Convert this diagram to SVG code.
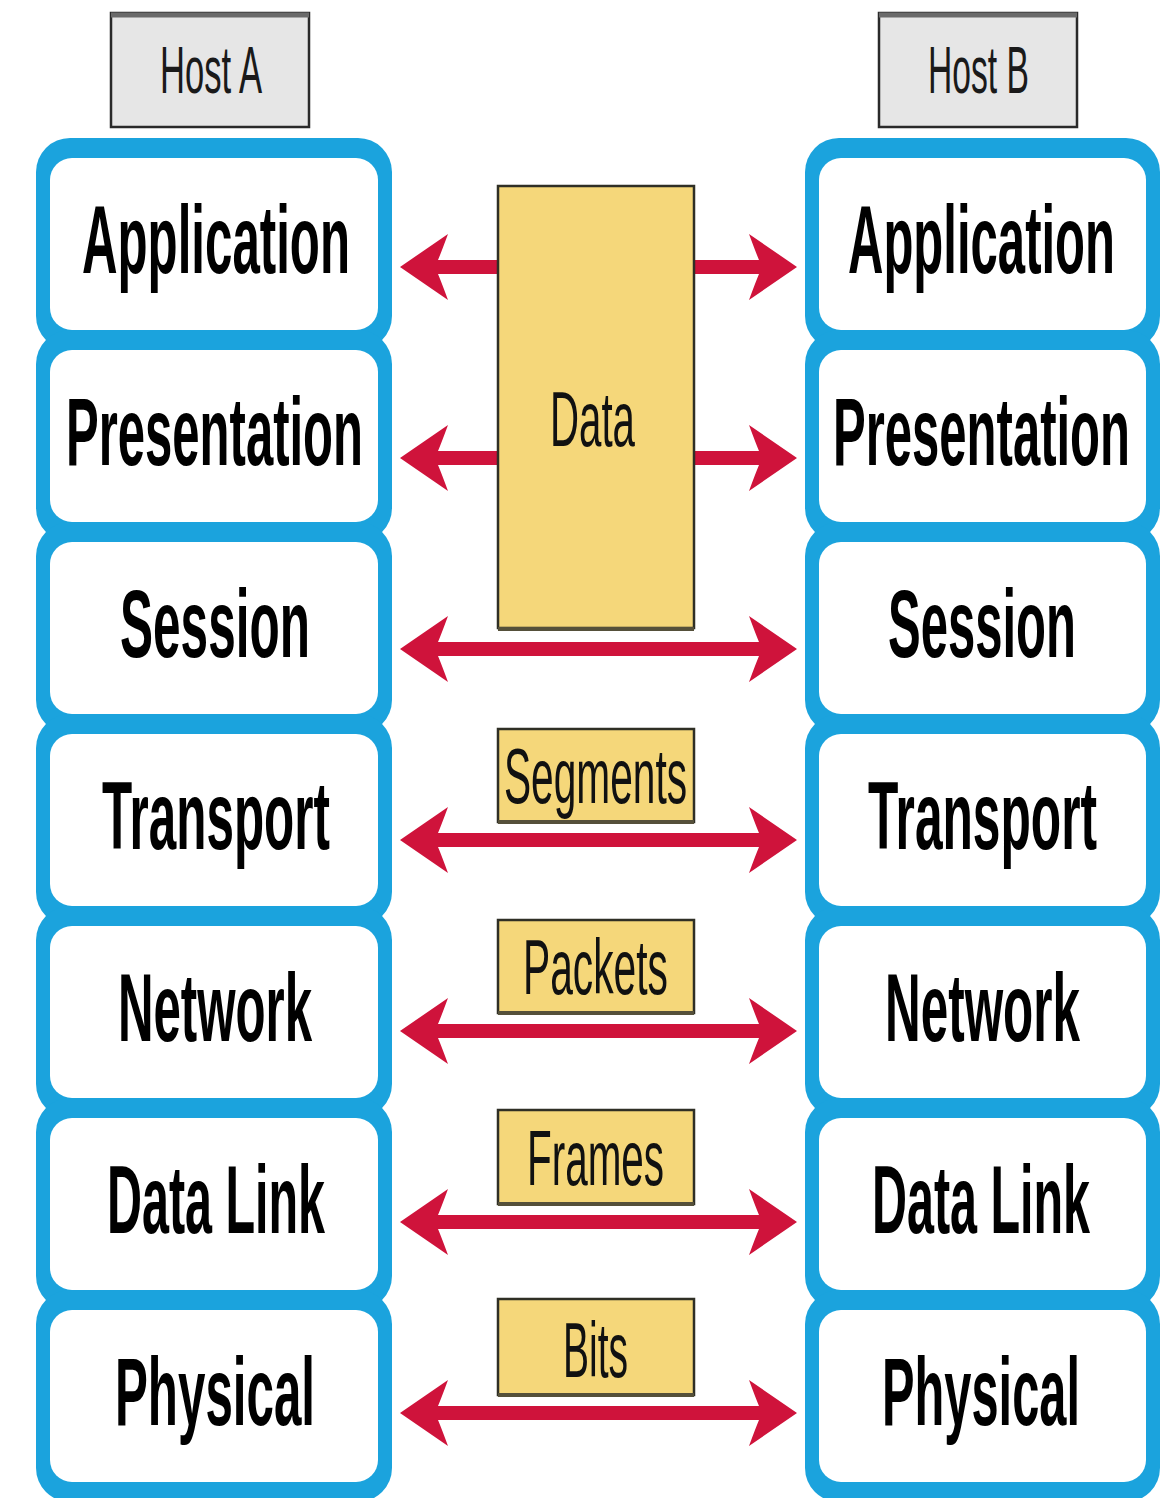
<svg xmlns="http://www.w3.org/2000/svg" xmlns:xlink="http://www.w3.org/1999/xlink" width="1164" height="1498" viewBox="0 0 1164 1498">
<style>
.ob{fill:#1ba3dd}
.ib{fill:#ffffff}
.lay{font-family:"Liberation Sans Narrow","Liberation Sans",Arial,sans-serif;font-weight:bold;font-size:96px;fill:#000}
.host{fill:#e6e6e6;stroke:#2a2a2a;stroke-width:2.5}
.hostTop{stroke:#6a6a6a;stroke-width:5}
.htxt{font-family:"Liberation Sans Narrow","Liberation Sans",Arial,sans-serif;font-size:66px;fill:#1a1a1a}
.pdu{fill:#f5d77a;stroke:#2f2f25;stroke-width:2.5}
.pduShadow{stroke:#55503a;stroke-width:4}
.ptxt{font-family:"Liberation Sans Narrow","Liberation Sans",Arial,sans-serif;font-size:78px;fill:#111}
.arr{fill:#cf133b}
</style>
<defs>
<path id="dblArrow" d="M400 0 L448 -33 Q441 -14 438 -7 L759 -7 Q756 -14 749 -33 L797 0 L749 33 Q756 14 759 7 L438 7 Q441 14 448 33 Z"/>
</defs>
<rect width="1164" height="1498" fill="#ffffff"/>

<g id="host-a">
<rect class="host" x="111" y="13" width="198" height="114"/>
<line class="hostTop" x1="111" y1="15" x2="309" y2="15"/>
<text class="htxt" x="160" y="93" textLength="102" lengthAdjust="spacingAndGlyphs">Host A</text>
</g>
<g id="host-b">
<rect class="host" x="879" y="13" width="198" height="114"/>
<line class="hostTop" x1="879" y1="15" x2="1077" y2="15"/>
<text class="htxt" x="928" y="93" textLength="101" lengthAdjust="spacingAndGlyphs">Host B</text>
</g>

<!-- Host A layers -->
<g id="a-application">
<rect class="ob" x="36" y="138" width="356" height="212" rx="34"/>
<rect class="ib" x="50" y="158" width="328" height="172" rx="22"/>
<text class="lay" x="82" y="273" textLength="268" lengthAdjust="spacingAndGlyphs">Application</text>
</g>
<g id="a-presentation">
<rect class="ob" x="36" y="330" width="356" height="212" rx="34"/>
<rect class="ib" x="50" y="350" width="328" height="172" rx="22"/>
<text class="lay" x="66" y="465" textLength="297" lengthAdjust="spacingAndGlyphs">Presentation</text>
</g>
<g id="a-session">
<rect class="ob" x="36" y="522" width="356" height="212" rx="34"/>
<rect class="ib" x="50" y="542" width="328" height="172" rx="22"/>
<text class="lay" x="120" y="657" textLength="190" lengthAdjust="spacingAndGlyphs">Session</text>
</g>
<g id="a-transport">
<rect class="ob" x="36" y="714" width="356" height="212" rx="34"/>
<rect class="ib" x="50" y="734" width="328" height="172" rx="22"/>
<text class="lay" x="102" y="849" textLength="228" lengthAdjust="spacingAndGlyphs">Transport</text>
</g>
<g id="a-network">
<rect class="ob" x="36" y="906" width="356" height="212" rx="34"/>
<rect class="ib" x="50" y="926" width="328" height="172" rx="22"/>
<text class="lay" x="118" y="1041" textLength="194" lengthAdjust="spacingAndGlyphs">Network</text>
</g>
<g id="a-datalink">
<rect class="ob" x="36" y="1098" width="356" height="212" rx="34"/>
<rect class="ib" x="50" y="1118" width="328" height="172" rx="22"/>
<text class="lay" x="107" y="1233" textLength="218" lengthAdjust="spacingAndGlyphs">Data Link</text>
</g>
<g id="a-physical">
<rect class="ob" x="36" y="1290" width="356" height="212" rx="34"/>
<rect class="ib" x="50" y="1310" width="328" height="172" rx="22"/>
<text class="lay" x="115" y="1425" textLength="200" lengthAdjust="spacingAndGlyphs">Physical</text>
</g>

<!-- Host B layers -->
<g id="b-application">
<rect class="ob" x="805" y="138" width="355" height="212" rx="34"/>
<rect class="ib" x="819" y="158" width="327" height="172" rx="22"/>
<text class="lay" x="848" y="273" textLength="267" lengthAdjust="spacingAndGlyphs">Application</text>
</g>
<g id="b-presentation">
<rect class="ob" x="805" y="330" width="355" height="212" rx="34"/>
<rect class="ib" x="819" y="350" width="327" height="172" rx="22"/>
<text class="lay" x="833" y="465" textLength="297" lengthAdjust="spacingAndGlyphs">Presentation</text>
</g>
<g id="b-session">
<rect class="ob" x="805" y="522" width="355" height="212" rx="34"/>
<rect class="ib" x="819" y="542" width="327" height="172" rx="22"/>
<text class="lay" x="888" y="657" textLength="188" lengthAdjust="spacingAndGlyphs">Session</text>
</g>
<g id="b-transport">
<rect class="ob" x="805" y="714" width="355" height="212" rx="34"/>
<rect class="ib" x="819" y="734" width="327" height="172" rx="22"/>
<text class="lay" x="868" y="849" textLength="229" lengthAdjust="spacingAndGlyphs">Transport</text>
</g>
<g id="b-network">
<rect class="ob" x="805" y="906" width="355" height="212" rx="34"/>
<rect class="ib" x="819" y="926" width="327" height="172" rx="22"/>
<text class="lay" x="885" y="1041" textLength="195" lengthAdjust="spacingAndGlyphs">Network</text>
</g>
<g id="b-datalink">
<rect class="ob" x="805" y="1098" width="355" height="212" rx="34"/>
<rect class="ib" x="819" y="1118" width="327" height="172" rx="22"/>
<text class="lay" x="872" y="1233" textLength="218" lengthAdjust="spacingAndGlyphs">Data Link</text>
</g>
<g id="b-physical">
<rect class="ob" x="805" y="1290" width="355" height="212" rx="34"/>
<rect class="ib" x="819" y="1310" width="327" height="172" rx="22"/>
<text class="lay" x="882" y="1425" textLength="198" lengthAdjust="spacingAndGlyphs">Physical</text>
</g>

<!-- connectors -->
<g id="connectors">
<use xlink:href="#dblArrow" href="#dblArrow" class="arr" transform="translate(0,267)"/>
<use xlink:href="#dblArrow" href="#dblArrow" class="arr" transform="translate(0,458)"/>
<use xlink:href="#dblArrow" href="#dblArrow" class="arr" transform="translate(0,649)"/>
<use xlink:href="#dblArrow" href="#dblArrow" class="arr" transform="translate(0,840)"/>
<use xlink:href="#dblArrow" href="#dblArrow" class="arr" transform="translate(0,1031)"/>
<use xlink:href="#dblArrow" href="#dblArrow" class="arr" transform="translate(0,1222)"/>
<use xlink:href="#dblArrow" href="#dblArrow" class="arr" transform="translate(0,1413)"/>
</g>

<!-- PDU labels -->
<g id="pdu-data">
<rect class="pdu" x="498" y="186" width="196" height="442"/>
<line class="pduShadow" x1="498" y1="629" x2="694" y2="629"/>
<text class="ptxt" x="550" y="446" textLength="85" lengthAdjust="spacingAndGlyphs">Data</text>
</g>
<g id="pdu-segments">
<rect class="pdu" x="498" y="729" width="196" height="93"/>
<line class="pduShadow" x1="498" y1="822" x2="694" y2="822"/>
<text class="ptxt" x="504" y="803" textLength="183" lengthAdjust="spacingAndGlyphs">Segments</text>
</g>
<g id="pdu-packets">
<rect class="pdu" x="498" y="920" width="196" height="93"/>
<line class="pduShadow" x1="498" y1="1013" x2="694" y2="1013"/>
<text class="ptxt" x="523" y="994" textLength="145" lengthAdjust="spacingAndGlyphs">Packets</text>
</g>
<g id="pdu-frames">
<rect class="pdu" x="498" y="1110" width="196" height="94"/>
<line class="pduShadow" x1="498" y1="1204" x2="694" y2="1204"/>
<text class="ptxt" x="527" y="1185" textLength="137" lengthAdjust="spacingAndGlyphs">Frames</text>
</g>
<g id="pdu-bits">
<rect class="pdu" x="498" y="1299" width="196" height="96"/>
<line class="pduShadow" x1="498" y1="1395" x2="694" y2="1395"/>
<text class="ptxt" x="563" y="1377" textLength="65" lengthAdjust="spacingAndGlyphs">Bits</text>
</g>
</svg>
